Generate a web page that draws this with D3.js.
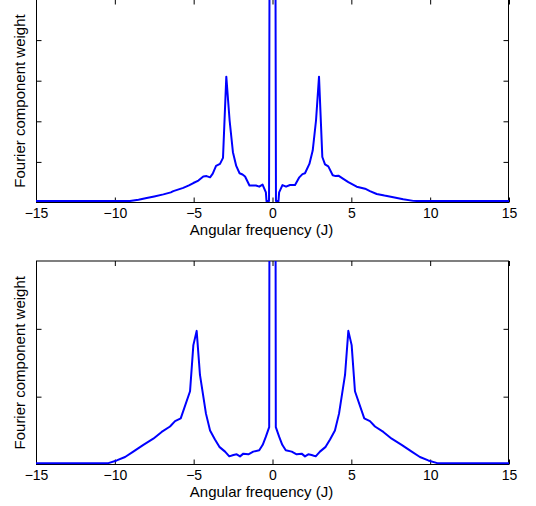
<!DOCTYPE html>
<html><head><meta charset="utf-8">
<script src="https://cdn.jsdelivr.net/npm/d3@7"></script>
<style>
body{margin:0;background:#fff}
svg{display:block}
text{font-family:"Liberation Sans",Arial,Helvetica,sans-serif;fill:#000}
</style>
</head><body>
<svg id="c" width="536" height="506"></svg>
<script>
// ---- data ----
const xTickValues = [-15, -10, -5, 0, 5, 10, 15];
const xTickLabels = ["\u221215", "\u221210", "\u22125", "0", "5", "10", "15"];
const xLabel = "Angular frequency (J)";
const yLabel = "Fourier component weight";

const topFreq = [-15, -9.04, -8.5, -7.98, -7.5, -6.92, -6.45, -6.29, -5.66, -5.3, -5.02, -4.7, -4.39, -4.18, -3.96, -3.79, -3.58, -3.33, -3.14, -2.93, -2.72, -2.51, -2.30, -2.09, -1.90, -1.74, -1.46, -1.05, -0.84, -0.63, -0.42, -0.38, -0.22, 0,
  0.22, 0.38, 0.42, 0.63, 0.86, 1.11, 1.43, 1.70, 1.90, 2.06, 2.34, 2.55, 2.76, 2.95, 3.16, 3.33, 3.54, 3.82, 4.0, 4.18, 4.49, 4.81, 5.34, 5.87, 6.18, 6.61, 7.1, 7.66, 8.29, 8.93, 9.14, 15];
const topWeight = [0.035, 0.035, 0.07, 0.11, 0.15, 0.20, 0.25, 0.28, 0.36, 0.42, 0.48, 0.54, 0.64, 0.65, 0.62, 0.71, 0.90, 0.95, 1.10, 3.10, 2.02, 1.24, 0.90, 0.72, 0.69, 0.64, 0.42, 0.42, 0.39, 0.44, 0.25, 0.035, 0.035, 40,
  0.035, 0.035, 0.25, 0.43, 0.39, 0.43, 0.43, 0.62, 0.70, 0.72, 0.95, 1.28, 2.02, 3.10, 1.12, 0.94, 0.89, 0.67, 0.65, 0.66, 0.58, 0.50, 0.39, 0.34, 0.28, 0.21, 0.17, 0.13, 0.08, 0.04, 0.035, 0.035];
const topYTicks = [1, 2, 3, 4];

const bottomFreq = [-15, -10.41, -9.88, -9.35, -8.83, -8.19, -7.56, -7.03, -6.50, -6.18, -5.82, -5.23, -5.02, -4.81, -4.60, -4.22, -3.96, -3.65, -3.37, -3.01, -2.74, -2.48, -2.27, -2.06, -1.85, -1.53, -1.22, -0.84, -0.62, -0.42, -0.21, 0,
  0.21, 0.42, 0.62, 0.84, 1.22, 1.53, 1.85, 2.06, 2.27, 2.48, 2.74, 3.01, 3.37, 3.65, 3.96, 4.22, 4.60, 4.81, 5.02, 5.23, 5.82, 6.18, 6.50, 7.03, 7.56, 8.19, 8.83, 9.35, 9.88, 10.45, 15];
const bottomWeight = [0.02, 0.02, 0.06, 0.11, 0.19, 0.29, 0.38, 0.48, 0.56, 0.64, 0.68, 1.08, 1.76, 1.97, 1.32, 0.75, 0.50, 0.37, 0.26, 0.19, 0.12, 0.14, 0.15, 0.12, 0.16, 0.15, 0.19, 0.21, 0.29, 0.41, 0.55, 40,
  0.55, 0.41, 0.29, 0.21, 0.19, 0.15, 0.16, 0.12, 0.15, 0.14, 0.12, 0.19, 0.26, 0.37, 0.50, 0.75, 1.32, 1.97, 1.76, 1.08, 0.68, 0.64, 0.56, 0.48, 0.38, 0.29, 0.19, 0.11, 0.06, 0.02, 0.02];
const bottomYTicks = [1, 2];

// ---- layout ----
const svg = d3.select("#c");
const left = 36, right = 509;
const x = d3.scaleLinear().domain([-15, 15]).range([left, right]);

const panels = [
  {id: "t", top: -0.5, bottom: 202.5, ymax: 5, freq: topFreq, w: topWeight, ticks: topYTicks},
  {id: "b", top: 261, bottom: 464.5, ymax: 3, freq: bottomFreq, w: bottomWeight, ticks: bottomYTicks}
];

const defs = svg.append("defs");

panels.forEach(p => {
  const y = d3.scaleLinear().domain([0, p.ymax]).range([p.bottom, p.top]);
  const g = svg.append("g");

  defs.append("clipPath").attr("id", "clip" + p.id)
    .append("rect").attr("x", left).attr("y", p.top)
    .attr("width", right - left).attr("height", p.bottom - p.top);

  // box
  g.append("rect").attr("x", left + 0.5).attr("y", p.top).attr("width", right - left - 1)
    .attr("height", p.bottom - p.top).attr("fill", "none").attr("stroke", "#000").attr("stroke-width", 1);

  // ticks (inward) on all four sides
  const bottomAxis = g.append("g").attr("transform", `translate(0,${p.bottom})`)
    .call(d3.axisBottom(x).tickValues(xTickValues).tickSize(-5).tickPadding(6)
      .tickFormat((d, i) => xTickLabels[i]));
  const topAxis = g.append("g").attr("transform", `translate(0,${p.top})`)
    .call(d3.axisTop(x).tickValues(xTickValues).tickSize(-5).tickFormat(""));
  const leftAxis = g.append("g").attr("transform", `translate(${left + 0.5},0)`)
    .call(d3.axisLeft(y).tickValues(p.ticks).tickSize(-5).tickFormat(""));
  const rightAxis = g.append("g").attr("transform", `translate(${right - 0.5},0)`)
    .call(d3.axisRight(y).tickValues(p.ticks).tickSize(-5).tickFormat(""));
  [bottomAxis, topAxis, leftAxis, rightAxis].forEach(a => {
    a.select(".domain").remove();
    a.selectAll("line").attr("stroke", "#000").attr("stroke-width", 1);
  });
  bottomAxis.selectAll("text").attr("font-size", 14)
    .attr("font-family", '"Liberation Sans",Arial,sans-serif').attr("fill", "#000");

  // data line
  const pts = p.freq.map((f, i) => [f, p.w[i]]);
  g.append("path").datum(pts)
    .attr("clip-path", `url(#clip${p.id})`)
    .attr("fill", "none").attr("stroke", "#0000ff").attr("stroke-width", 2)
    .attr("stroke-linejoin", "round")
    .attr("d", d3.line().x(d => x(d[0])).y(d => y(d[1])));

  // labels
  g.append("text").attr("x", 261.5).attr("y", p.bottom + 32.5)
    .attr("text-anchor", "middle").attr("font-size", 15).text(xLabel);
  g.append("text").attr("transform", `translate(25,${(p.top + p.bottom) / 2}) rotate(-90)`)
    .attr("text-anchor", "middle").attr("font-size", 15).text(yLabel);
});
</script>
</body></html>
